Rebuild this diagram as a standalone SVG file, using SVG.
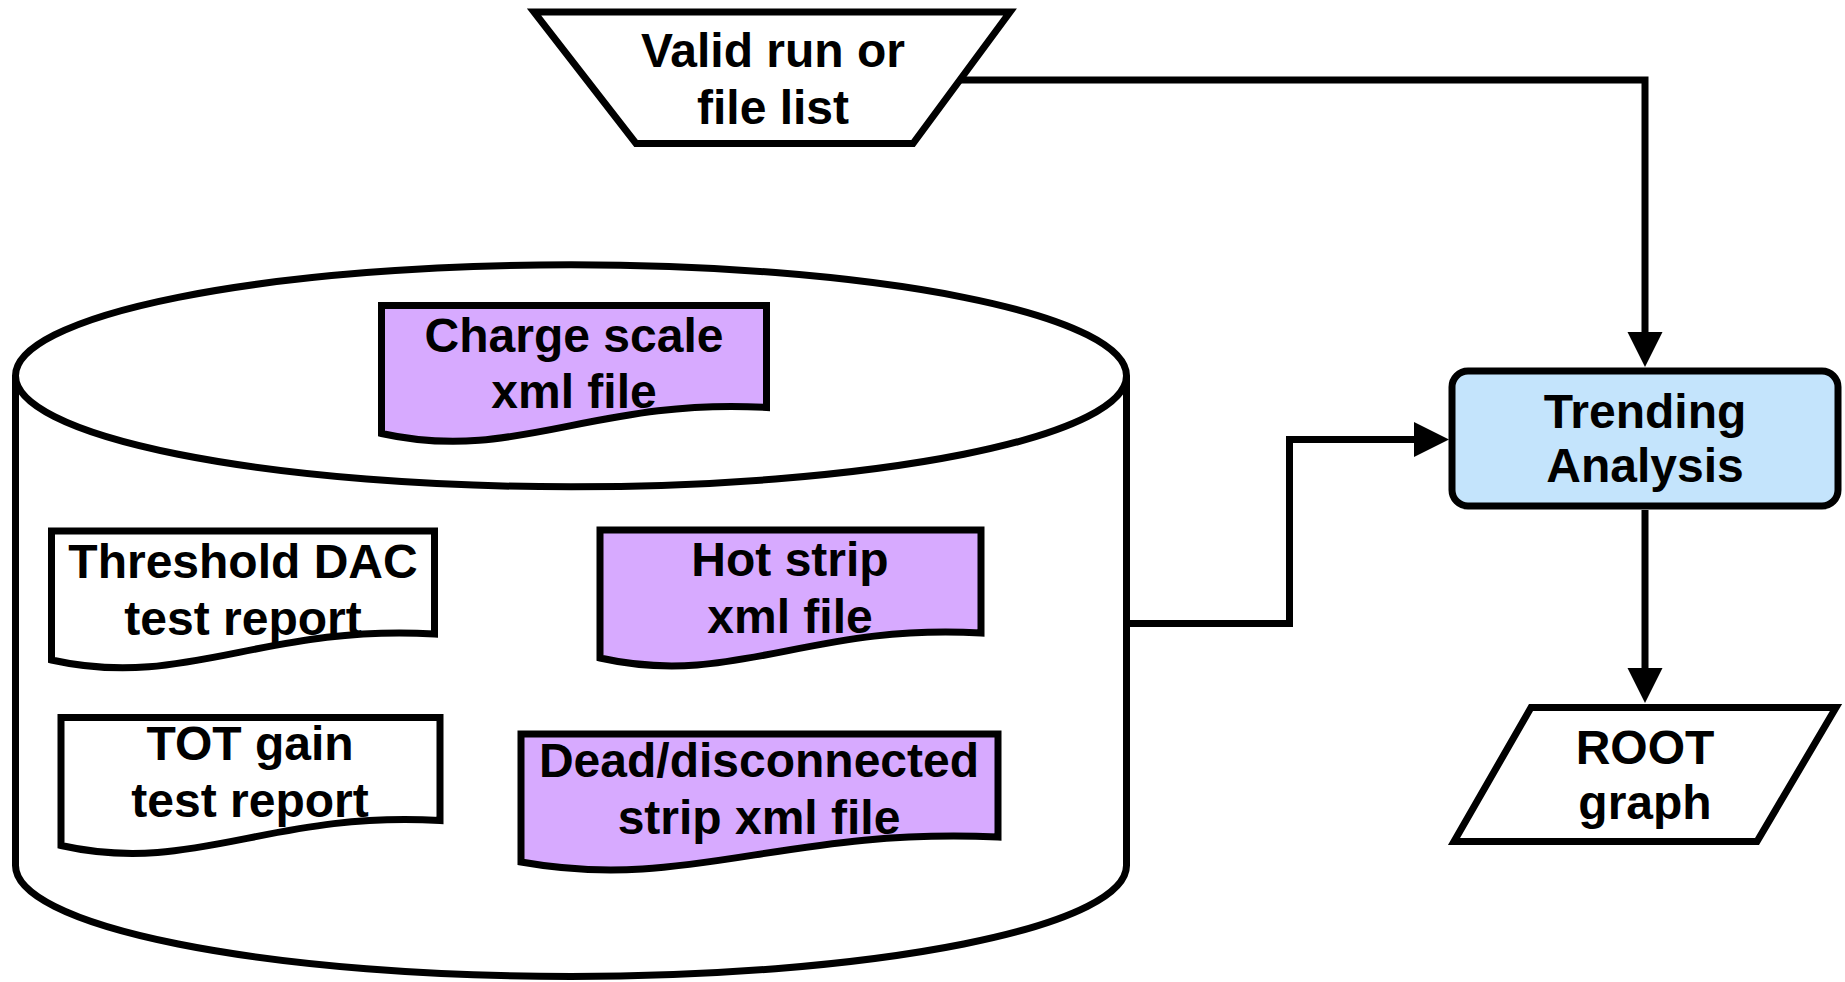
<svg xmlns="http://www.w3.org/2000/svg" width="1845" height="982" viewBox="0 0 1845 982">
<style>
.s{stroke:#000;stroke-width:7;stroke-linejoin:miter}
.w{fill:#fff}
.p{fill:#D7AAFF}
.b{fill:#C4E4FC}
.c{fill:none;stroke:#000;stroke-width:7}
text{font-family:"Liberation Sans",Arial,sans-serif;font-weight:bold;font-size:48px;text-anchor:middle;fill:#000}
</style>
<defs>
<marker id="ah" markerUnits="userSpaceOnUse" viewBox="0 -20 40 40" markerWidth="40" markerHeight="40" refX="0" refY="0" orient="auto">
<path d="M0,-17.5 L35,0 L0,17.5 Z" fill="#000"/>
</marker>
</defs>
<rect width="1845" height="982" fill="#fff"/>
<g id="connectors">
<path class="c" d="M960,80 H1645 V332" marker-end="url(#ah)"/>
<path class="c" d="M1126,623.5 H1289.5 V439.5 H1414" marker-end="url(#ah)"/>
<path class="c" d="M1645,510 V668" marker-end="url(#ah)"/>
</g>
<g id="valid-run">
<polygon class="s w" points="534,12 1010,12 913,143.5 636,143.5"/>
<text x="773" y="67">Valid run or</text>
<text x="773" y="124">file list</text>
</g>
<g id="database">
<path class="s w" d="M15.5,375.8 V865.5 A555.5,111 0 0 0 1126.5,865.5 V375.8"/>
<ellipse class="s w" cx="571" cy="375.8" rx="555.5" ry="111"/>
</g>
<g id="charge-scale">
<path class="s p" d="M381.5,305.5 H766.5 V407.5 C593,397.5 516,463.5 381.5,433.5 Z"/>
<text x="574" y="352">Charge scale</text>
<text x="574" y="408">xml file</text>
</g>
<g id="threshold-dac">
<path class="s w" d="M51.5,531 H434.5 V634 C262,624 185.5,690 51.5,660 Z"/>
<text x="243" y="578">Threshold DAC</text>
<text x="243" y="635">test report</text>
</g>
<g id="hot-strip">
<path class="s p" d="M600,530 H981 V633 C809.5,623 733.4,688 600,658 Z"/>
<text x="790" y="576">Hot strip</text>
<text x="790" y="633">xml file</text>
</g>
<g id="tot-gain">
<path class="s w" d="M61,717.5 H440 V820.5 C269.5,810.5 193.7,875.5 61,845.5 Z"/>
<text x="250" y="760">TOT gain</text>
<text x="250" y="817">test report</text>
</g>
<g id="dead-strip">
<path class="s p" d="M521,734 H998 V837 C783.3,827 688,892 521,862 Z"/>
<text x="759" y="777">Dead/disconnected</text>
<text x="759" y="834">strip xml file</text>
</g>
<g id="trending">
<rect class="s b" x="1452" y="371" width="386" height="135" rx="16" ry="16"/>
<text x="1645" y="428">Trending</text>
<text x="1645" y="482">Analysis</text>
</g>
<g id="root-graph">
<polygon class="s w" points="1531,707.5 1836,707.5 1757,841.5 1454,841.5"/>
<text x="1645" y="764">ROOT</text>
<text x="1645" y="819">graph</text>
</g>
</svg>
